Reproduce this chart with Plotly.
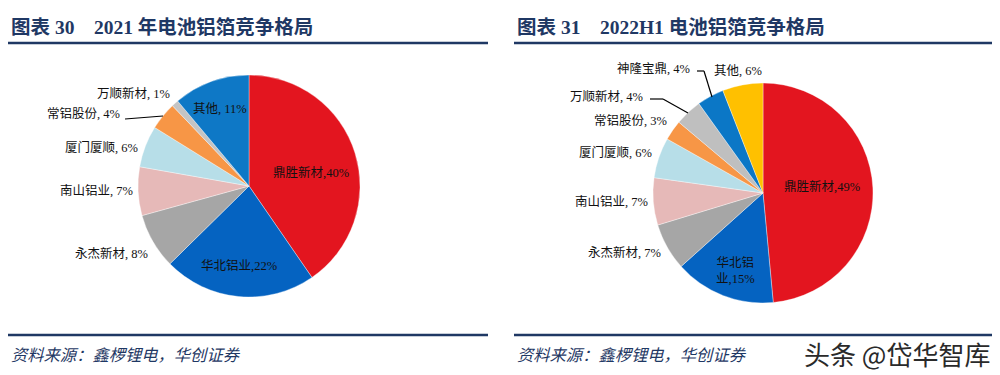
import plotly.graph_objects as go

# ---------------- data ----------------
left_labels = ["鼎胜新材", "华北铝业", "永杰新材", "南山铝业", "厦门厦顺", "常铝股份", "万顺新材", "其他"]
left_values = [40, 22, 8, 7, 6, 4, 1, 11]
right_labels = ["鼎胜新材", "华北铝业", "永杰新材", "南山铝业", "厦门厦顺", "常铝股份", "万顺新材", "神隆宝鼎", "其他"]
right_values = [49, 15, 7, 7, 6, 3, 4, 4, 6]

left_title = "图表 30    2021 年电池铝箔竞争格局"
right_title = "图表 31    2022H1 电池铝箔竞争格局"
source_text = "资料来源：鑫椤锂电，华创证券"
watermark = "头条 @岱华智库"

left_colors = ["#E3151F", "#0563C1", "#A6A6A6", "#E6B9B8", "#B7DEE8", "#F79646", "#C4C4C4", "#0E78C6"]
right_colors = ["#E3151F", "#0563C1", "#A6A6A6", "#E6B9B8", "#B7DEE8", "#F79646", "#BFBFBF", "#0B77C6", "#FFC000"]

W, H = 1000, 375
NAVY = "#1F3864"


def px(x):
    return x / W


def py(y):
    return 1 - y / H


def pie_domain(cx, cy, r):
    return dict(x=[px(cx - r), px(cx + r)], y=[py(cy + r), py(cy - r)])


fig = go.Figure()
fig.add_trace(go.Pie(
    labels=left_labels, values=left_values, sort=False, direction="clockwise", rotation=0,
    marker=dict(colors=left_colors, line=dict(color="rgba(255,255,255,0.6)", width=0.6)),
    textinfo="none", hoverinfo="label+percent", showlegend=False,
    domain=pie_domain(249, 186, 111),
))
fig.add_trace(go.Pie(
    labels=right_labels, values=right_values, sort=False, direction="clockwise", rotation=0,
    marker=dict(colors=right_colors, line=dict(color="rgba(255,255,255,0.6)", width=0.6)),
    textinfo="none", hoverinfo="label+percent", showlegend=False,
    domain=pie_domain(763, 193, 110),
))

LABEL_FONT = dict(family="Liberation Serif, Noto Sans CJK SC", size=12.5, color="#111111")


def lab(i, labels, values, x, y, sep=", "):
    return dict(text=f"{labels[i]}{sep}{values[i]}%", x=px(x), y=py(y), xref="paper", yref="paper",
                showarrow=False, xanchor="center", yanchor="middle", font=LABEL_FONT)


anns = []
# left pie labels (positions)
lpos = [(311, 172, ","), (239, 265, ","), (111, 253, ", "), (96, 190, ", "), (101, 147, ", "),
        (83, 113, ", "), (133, 93, ", "), (220, 109, ", ")]
for i, (x, y, s) in enumerate(lpos):
    anns.append(lab(i, left_labels, left_values, x, y, s))
# right pie labels
rpos = [(822, 187, ","), None, (624, 252, ", "), (611, 202, ", "), (615, 153, ", "),
        (630, 120, ", "), (606, 97, ", "), (653, 69, ", "), (738, 71, ", ")]
for i, p in enumerate(rpos):
    if p is None:
        continue
    x, y, s = p
    anns.append(lab(i, right_labels, right_values, x, y, s))
anns.append(dict(text=f"华北铝<br>业,{right_values[1]}%", x=px(735), y=py(270), xref="paper", yref="paper",
                 showarrow=False, xanchor="center", yanchor="middle", align="center", font=LABEL_FONT))

TITLE_FONT = dict(family="Liberation Serif, Noto Sans CJK SC", size=19.5, color=NAVY)
anns.append(dict(text=f"<b>{left_title}</b>", x=px(9), y=py(27), xref="paper", yref="paper",
                 showarrow=False, xanchor="left", yanchor="middle", font=TITLE_FONT))
anns.append(dict(text=f"<b>{right_title}</b>", x=px(515), y=py(27), xref="paper", yref="paper",
                 showarrow=False, xanchor="left", yanchor="middle", font=TITLE_FONT))
SRC_FONT = dict(family="Noto Sans CJK SC", size=16.3, color=NAVY)
for x0 in (9, 515):
    anns.append(dict(text=f"<i>{source_text}</i>", x=px(x0), y=py(354), xref="paper", yref="paper",
                     showarrow=False, xanchor="left", yanchor="middle", font=SRC_FONT))
anns.append(dict(text=watermark, x=px(992), y=py(353), xref="paper", yref="paper",
                 showarrow=False, xanchor="right", yanchor="middle",
                 font=dict(family="Noto Sans CJK SC", size=26, color="#2a2a2a")))

shapes = []
for (x0, x1) in ((8, 488), (514, 992)):
    for y in (43, 335):
        shapes.append(dict(type="line", xref="paper", yref="paper", x0=px(x0), x1=px(x1),
                           y0=py(y), y1=py(y), line=dict(color=NAVY, width=2.5)))
# leader lines
leaders = [
    [(125, 119), (163, 116)],
    [(697, 71), (704, 71), (712, 97)],
    [(650, 99), (663, 99), (688, 113)],
]
for pts in leaders:
    for (a, b) in zip(pts[:-1], pts[1:]):
        shapes.append(dict(type="line", xref="paper", yref="paper", x0=px(a[0]), y0=py(a[1]),
                           x1=px(b[0]), y1=py(b[1]), line=dict(color="#000000", width=1.2)))

fig.update_layout(
    width=W, height=H, margin=dict(l=0, r=0, t=0, b=0),
    paper_bgcolor="white", plot_bgcolor="white",
    annotations=anns, shapes=shapes,
)
fig.write_html("out.html", config={"displayModeBar": False},
               post_script="document.body.style.margin='0';document.body.style.overflow='hidden';")
